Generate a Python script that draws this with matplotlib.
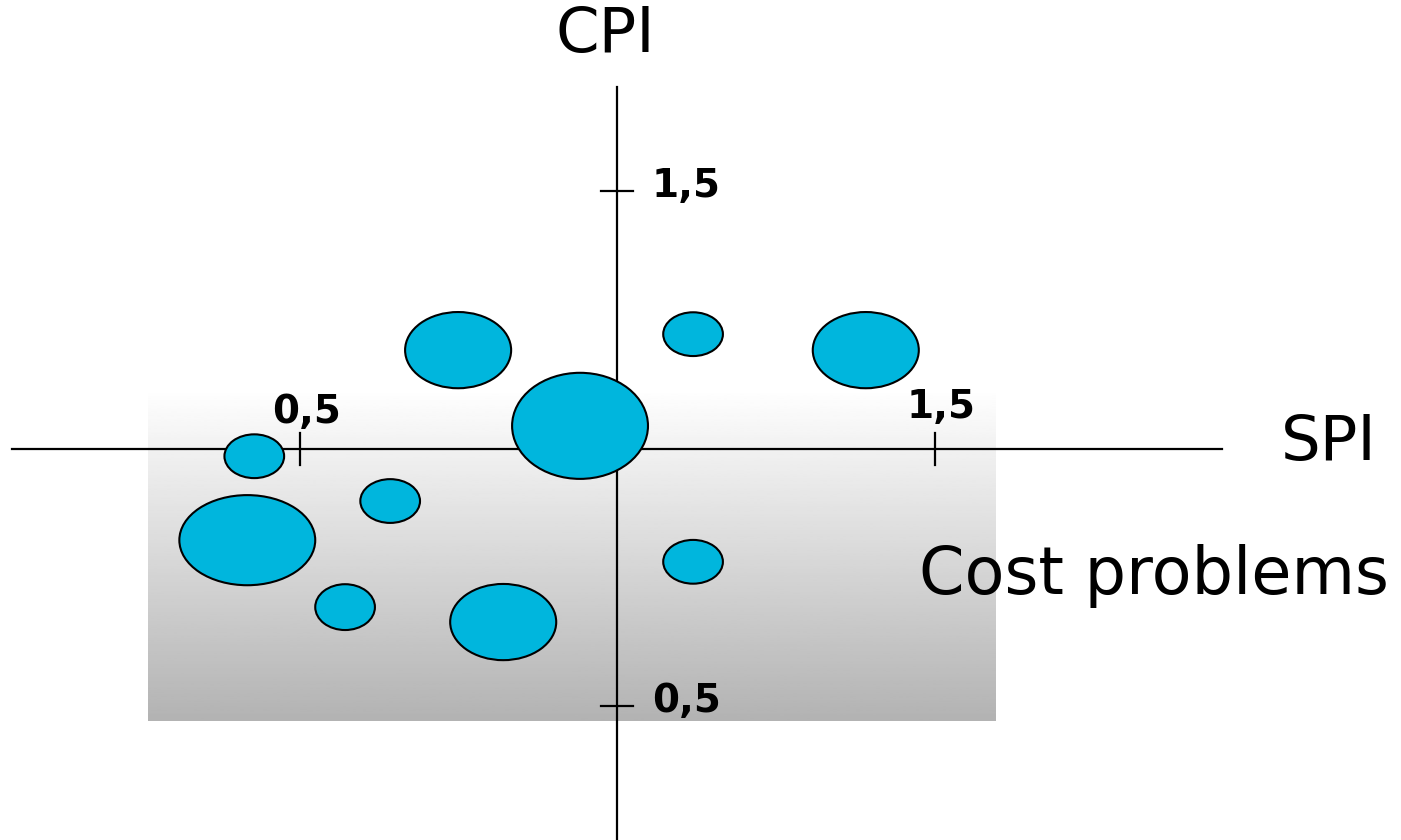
import numpy as np
import matplotlib
matplotlib.use("Agg")
import matplotlib.pyplot as plt
from matplotlib.patches import Ellipse

plt.rcParams['font.family'] = ['DejaVu Sans']

# ---- data ----
spi = [0.749, 1.119, 1.391, 0.941, 0.428, 0.642, 0.417, 1.119, 0.571, 0.820]
cpi = [1.191, 1.222, 1.191, 1.044, 0.985, 0.898, 0.822, 0.780, 0.692, 0.663]
bubble_w = [0.167, 0.094, 0.167, 0.214, 0.094, 0.094, 0.214, 0.094, 0.094, 0.167]
bubble_h = [0.148, 0.085, 0.148, 0.206, 0.085, 0.085, 0.175, 0.085, 0.089, 0.148]
x_ticks = [0.5, 1.5]
x_tick_labels = ['0,5', '1,5']
y_ticks = [1.5, 0.5]
y_tick_labels = ['1,5', '0,5']
x_title = 'SPI'
y_title = 'CPI'
region_label = 'Cost problems'
region_x = [0.261, 1.596]
region_y = [0.471, 1.117]

# ---- figure ----
W, H = 1401, 840
fig = plt.figure(figsize=(W / 100, H / 100), dpi=100)
ax = fig.add_axes([0, 0, 1, 1])
# pixel mapping: x=1 at 617.5 px, 635 px/unit ; y=1 at 448.5 px, 515 px/unit
xl = (1 - 617.5 / 635, 1 + (W - 617.5) / 635)
yl = (1 - (H - 448.5) / 515, 1 + 448.5 / 515)
ax.set_xlim(*xl)
ax.set_ylim(*yl)
ax.axis('off')

# gradient region
grad = np.linspace(0.70, 1.0, 256).reshape(-1, 1)
ax.imshow(grad, cmap='gray', vmin=0, vmax=1, origin='lower', aspect='auto',
          extent=[region_x[0], region_x[1], region_y[0], region_y[1]], zorder=0)

# axes lines
ax.plot([1 + (12 - 617.5) / 635, 1 + (1222 - 617.5) / 635], [1, 1],
        color='black', lw=1.6, zorder=1)
ax.plot([1, 1], [yl[0], 1 + (448.5 - 87) / 515], color='black', lw=1.6, zorder=1)

# ticks
tx = 16 / 635
ty = 16 / 515
x_lab_dy = [0.071, 0.081]
for v, lab, dy in zip(x_ticks, x_tick_labels, x_lab_dy):
    ax.plot([v, v], [1 - ty, 1 + ty], color='black', lw=1.6, zorder=1)
    ax.text(v + 0.010, 1 + dy, lab, ha='center', va='center',
            fontsize=28, fontweight='bold', zorder=3)
for v, lab in zip(y_ticks, y_tick_labels):
    ax.plot([1 - tx, 1 + tx], [v, v], color='black', lw=1.6, zorder=1)
    ax.text(1 + 0.108, v + 0.01, lab, ha='center', va='center',
            fontsize=28, fontweight='bold', zorder=3)

# bubbles
for x, y, w, h in zip(spi, cpi, bubble_w, bubble_h):
    ax.add_patch(Ellipse((x, y), w, h, facecolor='#00b6dd', edgecolor='black',
                         lw=1.5, zorder=2))

# titles
ax.text(1 + (1329 - 617.5) / 635, 1 + (448.5 - 443) / 515, x_title,
        ha='center', va='center', fontsize=45)
ax.text(1 + (605 - 617.5) / 635, 1 + (448.5 - 35) / 515, y_title,
        ha='center', va='center', fontsize=45)
ax.text(1 + (1154 - 617.5) / 635, 1 + (448.5 - 576) / 515, region_label,
        ha='center', va='center', fontsize=47)

fig.savefig('out.png', dpi=100)
